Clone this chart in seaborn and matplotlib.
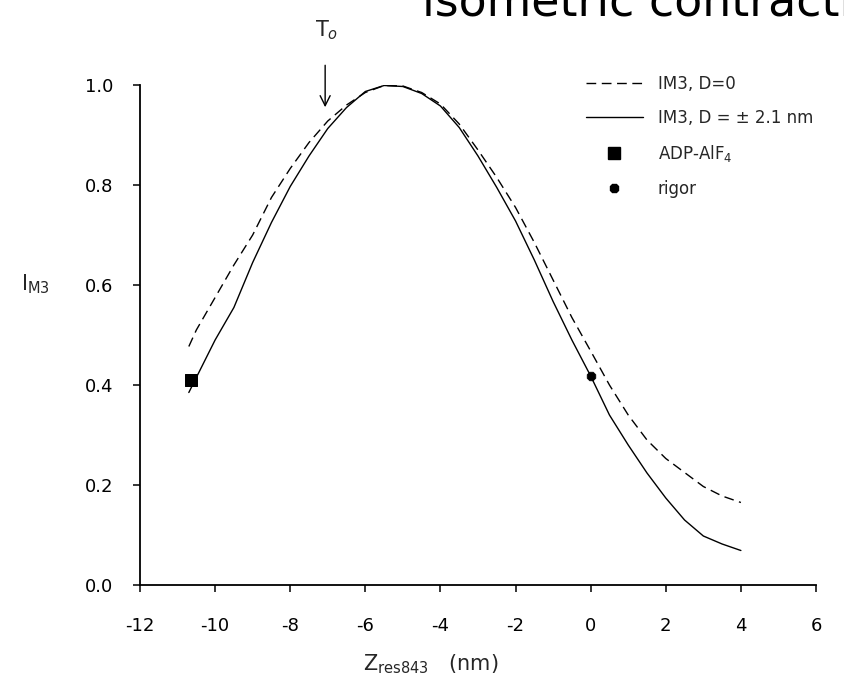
import numpy as np
import pandas as pd
import matplotlib
matplotlib.use('Agg')
import matplotlib.pyplot as plt
import seaborn as sns
from matplotlib.lines import Line2D

# Curve samples (z in nm, intensity I_M3)
z_vals = [-10.7, -10.5, -10.0, -9.5, -9.0, -8.5, -8.0, -7.5, -7.0, -6.5, -6.0,
          -5.5, -5.0, -4.5, -4.0, -3.5, -3.0, -2.5, -2.0, -1.5, -1.0, -0.5,
          0.0, 0.5, 1.0, 1.5, 2.0, 2.5, 3.0, 3.5, 4.0]
im3_d0 = [0.477, 0.510, 0.575, 0.640, 0.700, 0.775, 0.833, 0.885, 0.928, 0.960, 0.985,
          0.999, 0.998, 0.985, 0.962, 0.922, 0.870, 0.815, 0.755, 0.685, 0.610, 0.535,
          0.468, 0.400, 0.340, 0.290, 0.253, 0.225, 0.197, 0.178, 0.165]
im3_d21 = [0.385, 0.415, 0.490, 0.555, 0.645, 0.725, 0.797, 0.858, 0.913, 0.955, 0.987,
           0.999, 0.997, 0.983, 0.958, 0.915, 0.858, 0.795, 0.728, 0.650, 0.567, 0.490,
           0.418, 0.340, 0.280, 0.224, 0.174, 0.130, 0.098, 0.082, 0.069]

# Measured states
adp_z, adp_i = [-10.64], [0.41]
rigor_z, rigor_i = [0.0], [0.418]

# T0 marker position
t0_z = -7.07
t0_tip, t0_tail = 0.95, 1.045

x_ticks = [-12, -10, -8, -6, -4, -2, 0, 2, 4, 6]
y_ticks = [0.0, 0.2, 0.4, 0.6, 0.8, 1.0]

sns.set_theme(style='ticks')
plt.rcParams['font.family'] = ['DejaVu Sans']
plt.rcParams['axes.unicode_minus'] = False

fig = plt.figure(figsize=(8.45, 6.86), dpi=100)
ax = fig.add_axes([140 / 845, 1 - 585 / 686, 676 / 845, 500 / 686])

df = pd.DataFrame({'z': z_vals, 'd0': im3_d0, 'd21': im3_d21})
sns.lineplot(data=df, x='z', y='d0', ax=ax, color='black', linewidth=1.0,
             linestyle=(0, (7, 4)))
sns.lineplot(data=df, x='z', y='d21', ax=ax, color='black', linewidth=1.0)
sns.scatterplot(x=adp_z, y=adp_i, ax=ax, marker='s', s=80, color='black',
                edgecolor='black', zorder=5)
sns.scatterplot(x=rigor_z, y=rigor_i, ax=ax, marker='8', s=45, color='black',
                edgecolor='black', zorder=5)

ax.annotate('', xy=(t0_z, t0_tip), xytext=(t0_z, t0_tail),
            arrowprops=dict(arrowstyle='->', color='black', lw=1.0,
                            mutation_scale=18), annotation_clip=False)
ax.text(t0_z + 0.05, 1.11, 'T$_o$', ha='center', va='center', fontsize=15,
        clip_on=False)

ax.set_xlim(-12, 6)
ax.set_ylim(0, 1.0)
ax.set_xticks(x_ticks)
ax.set_yticks(y_ticks)
ax.set_yticklabels([f'{v:.1f}' for v in y_ticks])
ax.tick_params(axis='both', direction='out', length=5, width=1.1,
               labelsize=13, colors='black')
ax.tick_params(axis='x', pad=18)
ax.tick_params(axis='y', pad=14)
sns.despine(ax=ax)
for side in ['left', 'bottom']:
    ax.spines[side].set_linewidth(1.3)
    ax.spines[side].set_color('black')

ax.set_xlabel('Z$_{\\mathrm{res843}}$   (nm)', fontsize=15)
ax.xaxis.set_label_coords(0.43, -0.135)
ax.set_ylabel('I$_{\\mathrm{M3}}$', fontsize=15, rotation=0)
ax.yaxis.set_label_coords(-0.155, 0.578)

handles = [
    Line2D([], [], color='black', lw=1.0, linestyle=(0, (7, 4))),
    Line2D([], [], color='black', lw=1.0),
    Line2D([], [], color='black', marker='s', linestyle='none', markersize=8),
    Line2D([], [], color='black', marker='8', linestyle='none', markersize=6),
]
labels = ['IM3, D=0', 'IM3, D = \u00b1 2.1 nm', 'ADP-AlF$_4$', 'rigor']
ax.legend(handles, labels, loc='upper left', bbox_to_anchor=(0.66, 1.02),
          frameon=False, fontsize=12, handlelength=3.4, handletextpad=0.9,
          labelspacing=0.95, borderpad=0, borderaxespad=0)

# title is cropped at the top and right edge in the reference
fig.text(422 / 845, 1 - 15 / 686, 'isometric contraction', fontsize=33,
         ha='left', va='baseline', color='black')

fig.savefig('out.png', dpi=100)
